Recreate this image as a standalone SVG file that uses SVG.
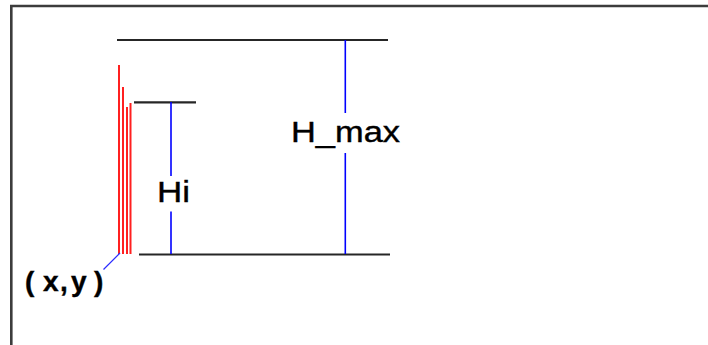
<svg xmlns="http://www.w3.org/2000/svg" width="708" height="345" viewBox="0 0 708 345">
  <style>
    .frame { fill: none; stroke: #3c3c3c; stroke-width: 2.6; }
    .level { stroke: #262626; stroke-width: 2.2; fill: none; }
    .bar { stroke: #ff2020; stroke-width: 2; fill: none; }
    .dim { stroke: #0000ff; stroke-width: 1.6; fill: none; }
    .lead { stroke: #2a2aff; stroke-width: 1.2; fill: none; }
    .lbl { font-family: "Liberation Sans", Arial, sans-serif; fill: #000; stroke: #000; stroke-width: 0.4; }
  </style>
  <rect width="708" height="345" fill="#ffffff"/>
  <g id="frame">
    <path class="frame" d="M11.3 345 V6 H708"/>
  </g>
  <g id="bars">
    <line class="bar" x1="119" y1="65" x2="119" y2="254"/>
    <line class="bar" x1="123" y1="87" x2="123" y2="254"/>
    <line class="bar" x1="127" y1="107" x2="127" y2="254"/>
    <line class="bar" x1="130.5" y1="103" x2="130.5" y2="254"/>
  </g>
  <g id="level-top">
    <line class="level" x1="117" y1="40" x2="388" y2="40"/>
  </g>
  <g id="level-hi">
    <line class="level" x1="134" y1="102.3" x2="196" y2="102.3"/>
  </g>
  <g id="level-base">
    <line class="level" x1="139" y1="254.5" x2="390" y2="254.5"/>
  </g>
  <g id="connectors">
    <line class="dim" x1="171" y1="102" x2="171" y2="176"/>
    <line class="dim" x1="171" y1="211.5" x2="171" y2="254"/>
    <line class="dim" x1="345.3" y1="40" x2="345.3" y2="113"/>
    <line class="dim" x1="345.3" y1="153" x2="345.3" y2="254"/>
    <line class="lead" x1="120" y1="253" x2="103.5" y2="269.5"/>
  </g>
  <g id="label-hmax">
    <text class="lbl" x="291" y="141.5" font-size="29" textLength="109" lengthAdjust="spacingAndGlyphs">H_max</text>
  </g>
  <g id="label-hi">
    <text class="lbl" x="157" y="202" font-size="29" textLength="33" lengthAdjust="spacingAndGlyphs">Hi</text>
  </g>
  <g id="label-xy">
    <text class="lbl" x="25 43 60 71 94" y="291" font-size="28" font-weight="bold" stroke-width="0">(x,y)</text>
  </g>
</svg>
